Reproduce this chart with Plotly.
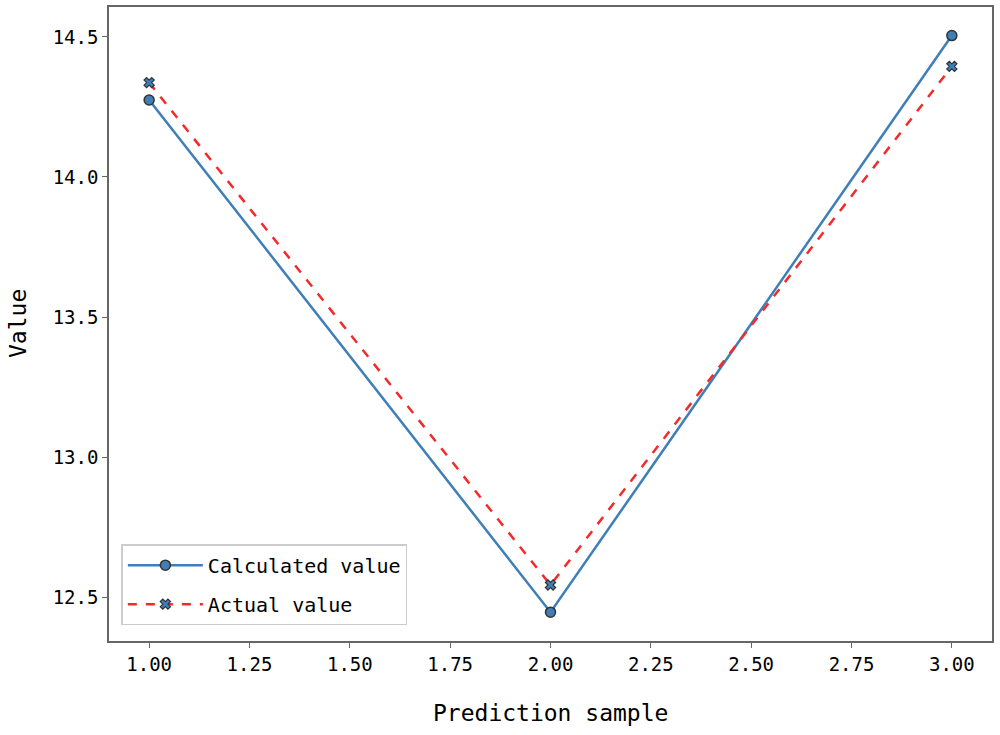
import plotly.graph_objects as go

samples = [1, 2, 3]
calculated = [14.275, 12.446, 14.505]
actual = [14.337, 12.543, 14.395]
x_ticks = [1.00, 1.25, 1.50, 1.75, 2.00, 2.25, 2.50, 2.75, 3.00]
y_ticks = [12.5, 13.0, 13.5, 14.0, 14.5]

FONT = "DejaVu Sans Mono, Liberation Mono, monospace"

fig = go.Figure()
fig.add_trace(go.Scatter(
    x=samples, y=calculated, mode="lines+markers", name="Calculated value",
    legendgroup="calc",
    line=dict(color="#3f7fb8", width=2.5),
    marker=dict(symbol="circle", size=10, color="#3f7fb8", line=dict(color="#333333", width=1.5)),
))
fig.add_trace(go.Scatter(
    x=samples, y=actual, mode="lines+markers", name="Actual value",
    legendgroup="act",
    line=dict(color="#f42a2a", width=2.5, dash="dash"),
    marker=dict(symbol="x", size=9, color="#3f7fb8", line=dict(color="#333333", width=1.2)),
))

fig.update_layout(
    width=1000, height=735,
    margin=dict(l=109, r=8, t=7, b=94),
    paper_bgcolor="white", plot_bgcolor="white",
    font=dict(family=FONT, size=19, color="black"),
    showlegend=True,
    legend=dict(
        x=0.014, y=0.025, xanchor="left", yanchor="bottom",
        bordercolor="#cccccc", borderwidth=1.5, bgcolor="white",
        font=dict(family=FONT, size=20, color="black"),
        itemwidth=75, tracegroupgap=10,
    ),
    xaxis=dict(
        range=[0.9, 3.1], tickvals=x_ticks,
        ticktext=[f"{v:.2f}" for v in x_ticks],
        showgrid=False, zeroline=False, automargin=False,
        showline=True, linecolor="#666666", linewidth=1.5, mirror=True,
        ticks="outside", ticklen=5, tickcolor="#666666",
    ),
    yaxis=dict(
        range=[12.343, 14.607], tickvals=y_ticks,
        ticktext=[f"{v:.1f}" for v in y_ticks],
        showgrid=False, zeroline=False, automargin=False,
        showline=True, linecolor="#666666", linewidth=1.5, mirror=True,
        ticks="outside", ticklen=5, tickcolor="#666666",
    ),
    annotations=[
        dict(text="Prediction sample", xref="paper", yref="paper", x=0.5, y=0,
             yshift=-72, xanchor="center", yanchor="middle", showarrow=False,
             font=dict(family=FONT, size=23, color="black")),
        dict(text="Value", xref="paper", yref="paper", x=0, y=0.5,
             xshift=-91, xanchor="center", yanchor="middle", showarrow=False, textangle=-90,
             font=dict(family=FONT, size=23, color="black")),
    ],
)

fig.write_html(
    "out.html",
    config={"displayModeBar": False},
    post_script="document.body.style.margin='0';document.body.style.overflow='hidden';",
)
